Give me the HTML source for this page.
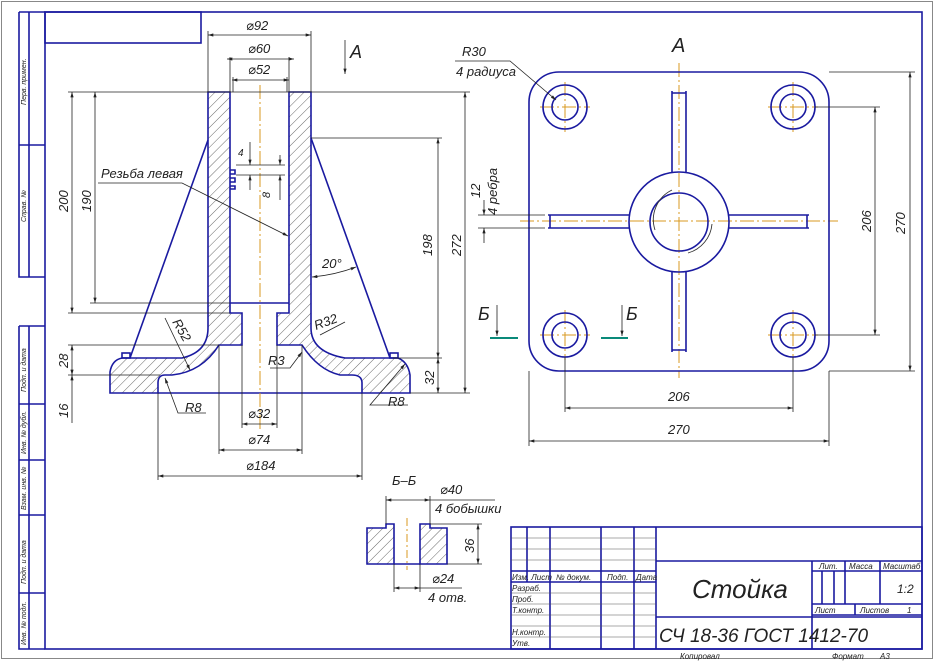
<!DOCTYPE html>
<html><head><meta charset="utf-8"><style>
html,body{margin:0;padding:0;background:#fff}
svg{display:block}
text{font-family:"Liberation Sans","DejaVu Sans",sans-serif;font-style:italic;fill:#222}
</style></head><body>
<svg width="935" height="661" viewBox="0 0 935 661" xmlns="http://www.w3.org/2000/svg">
<defs>
<pattern id="h" patternUnits="userSpaceOnUse" width="7" height="7" patternTransform="rotate(45)">
<line x1="0" y1="0" x2="0" y2="7" stroke="#444" stroke-width="0.8"/>
</pattern>
<marker id="a" viewBox="0 0 10 6" refX="10" refY="3" markerWidth="8" markerHeight="4" orient="auto-start-reverse">
<path d="M0,0 L10,3 L0,6 Z" fill="#222"/></marker>
</defs>
<rect x="1.5" y="1.5" width="931" height="657" fill="none" stroke="#888" stroke-width="1"/>
<g fill="none" stroke="#1a1aa0" stroke-width="1.6">
<rect x="45" y="12" width="877" height="637"/>
<rect x="45" y="12" width="156" height="31"/>
<path d="M19,12 V277 H45 M29,12 V277 M19,12 H45 M19,145 H45"/>
<path d="M19,326 V649 H45 M29,326 V649 M19,326 H45 M19,404 H45 M19,460 H45 M19,515 H45 M19,593 H45"/>
</g>
<g font-size="7" fill="#222">
<text transform="translate(26,105) rotate(-90)">Перв. примен.</text>
<text transform="translate(26,222) rotate(-90)">Справ. №</text>
<text transform="translate(26,392) rotate(-90)">Подп. и дата</text>
<text transform="translate(26,454) rotate(-90)">Инв. № дубл.</text>
<text transform="translate(26,510) rotate(-90)">Взам. инв. №</text>
<text transform="translate(26,584) rotate(-90)">Подп. и дата</text>
<text transform="translate(26,645) rotate(-90)">Инв. № подл.</text>
</g>

<path d="M208,92 L230,92 L230,313 L242,313 L242,345 L219,345 Q202,372 172,375 L165,375 Q158,375 158,383 L158,393 L110,393 L110,372 Q112,360 122,358 L182,358 Q208,352 208,328 Z" fill="url(#h)" stroke="#1a1aa0" stroke-width="1.6"/>
<path d="M289,92 L311,92 L311,328 Q311,352 345,358 L398,358 Q408,362 410,375 L410,393 L362,393 L362,383 Q362,375 352,375 L340,375 Q318,370 302,345 L277,345 L277,313 L289,313 Z" fill="url(#h)" stroke="#1a1aa0" stroke-width="1.6"/>
<g fill="none" stroke="#1a1aa0" stroke-width="1.6">
<line x1="230" y1="303" x2="289" y2="303"/>
<line x1="158" y1="393" x2="362" y2="393"/>
<line x1="208" y1="140" x2="130" y2="358"/>
<line x1="311" y1="138" x2="390" y2="358"/>
<rect x="122" y="353" width="8" height="5"/>
<rect x="390" y="353" width="8" height="5"/>
<path d="M230,170 h5 v4 h-5 M230,178 h5 v4 h-5 M230,186 h5 v3 h-5"/>
</g>
<line x1="260" y1="85" x2="260" y2="430" stroke="#d89a20" stroke-width="1" stroke-dasharray="14,3,2,3"/>
<g stroke="#222" stroke-width="0.8" fill="none">
<path d="M208,92 V31 M311,92 V31 M230,92 V57 M289,92 V57 M233,92 V77 M287,92 V77"/>
<line x1="208" y1="35" x2="311" y2="35" marker-start="url(#a)" marker-end="url(#a)"/>
<line x1="227" y1="59" x2="294" y2="59" marker-start="url(#a)" marker-end="url(#a)"/>
<line x1="232" y1="80" x2="289" y2="80" marker-start="url(#a)" marker-end="url(#a)"/>
<path d="M68,92 H470 M68,313 H230 M90,303 H230 M311,138 H442 M68,345 H219 M68,375 H160 M393,358 H442 M410,393 H470"/>
<line x1="72" y1="92" x2="72" y2="313" marker-start="url(#a)" marker-end="url(#a)"/>
<line x1="95" y1="92" x2="95" y2="303" marker-start="url(#a)" marker-end="url(#a)"/>
<line x1="465" y1="92" x2="465" y2="393" marker-start="url(#a)" marker-end="url(#a)"/>
<line x1="438" y1="138" x2="438" y2="358" marker-start="url(#a)" marker-end="url(#a)"/>
<line x1="438" y1="358" x2="438" y2="393" marker-start="url(#a)" marker-end="url(#a)"/>
<line x1="72" y1="345" x2="72" y2="375" marker-start="url(#a)" marker-end="url(#a)"/>
<line x1="72" y1="393" x2="72" y2="423"/><line x1="72" y1="393" x2="72" y2="375" marker-end="url(#a)"/>
<path d="M242,345 V428 M277,345 V428 M219,345 V454 M302,345 V454 M158,393 V480 M362,393 V480"/>
<line x1="242" y1="424" x2="277" y2="424" marker-start="url(#a)" marker-end="url(#a)"/>
<line x1="219" y1="450" x2="302" y2="450" marker-start="url(#a)" marker-end="url(#a)"/>
<line x1="158" y1="476" x2="362" y2="476" marker-start="url(#a)" marker-end="url(#a)"/>
<path d="M98,183 H182 L288,236" marker-end="url(#a)"/>
<path d="M312,277 Q335,275 356,267" marker-start="url(#a)" marker-end="url(#a)"/>
<line x1="165" y1="318" x2="190" y2="370" marker-end="url(#a)"/>
<path d="M345,322 L320,335" />
<path d="M270,368 H290 L302,352" marker-end="url(#a)"/>
<path d="M206,413 H178 L165,378" marker-end="url(#a)"/>
<path d="M408,405 H370 L405,364" marker-end="url(#a)"/>
<path d="M236,165 H285 M236,175 H285"/>
<line x1="250" y1="142" x2="250" y2="165" marker-end="url(#a)"/>
<line x1="250" y1="190" x2="250" y2="175" marker-end="url(#a)"/>
<line x1="280" y1="155" x2="280" y2="165" marker-end="url(#a)"/>
<line x1="280" y1="200" x2="280" y2="175" marker-end="url(#a)"/>
<line x1="345" y1="40" x2="345" y2="74" marker-end="url(#a)"/>
</g>
<g font-size="13">
<text x="246" y="30">⌀92</text><text x="248" y="53">⌀60</text><text x="248" y="74">⌀52</text>
<text x="350" y="58" font-size="18" font-style="normal">A</text>
<text transform="translate(68,212) rotate(-90)">200</text>
<text transform="translate(91,212) rotate(-90)">190</text>
<text transform="translate(461,256) rotate(-90)">272</text>
<text transform="translate(432,256) rotate(-90)">198</text>
<text transform="translate(434,385) rotate(-90)">32</text>
<text transform="translate(68,368) rotate(-90)">28</text>
<text transform="translate(68,418) rotate(-90)">16</text>
<text x="248" y="418">⌀32</text><text x="248" y="444">⌀74</text><text x="246" y="470">⌀184</text>
<text x="101" y="178">Резьба левая</text>
<text x="322" y="268">20°</text>
<text transform="translate(172,322) rotate(60)">R52</text>
<text x="316" y="330" transform="rotate(-20 316 330)">R32</text>
<text x="268" y="365">R3</text>
<text x="185" y="412">R8</text><text x="388" y="406">R8</text>
<text x="238" y="156" font-size="10">4</text>
<text transform="translate(270,198) rotate(-90)" font-size="11">8</text>
</g>

<g stroke="#d89a20" stroke-width="1" stroke-dasharray="14,3,2,3" fill="none">
<line x1="679" y1="63" x2="679" y2="378"/><line x1="520" y1="221" x2="838" y2="221"/>
<path d="M540,107 H590 M565,82 V132 M768,107 H818 M793,82 V132 M540,335 H590 M565,310 V360 M768,335 H818 M793,310 V360"/>
</g>
<g fill="none" stroke="#1a1aa0" stroke-width="1.6">
<rect x="529" y="72" width="300" height="299" rx="30"/>
<circle cx="565" cy="107" r="22"/><circle cx="565" cy="107" r="13"/>
<circle cx="793" cy="107" r="22"/><circle cx="793" cy="107" r="13"/>
<circle cx="565" cy="335" r="22"/><circle cx="565" cy="335" r="13"/>
<circle cx="793" cy="335" r="22"/><circle cx="793" cy="335" r="13"/>
<circle cx="679" cy="222" r="50"/><circle cx="679" cy="222" r="29"/>
<path d="M672,91 V172 M686,91 V172 M672,272 V352 M686,272 V352 M672,93 H686 M672,350 H686"/>
<path d="M548,215 H629 M548,228 H629 M729,215 H809 M729,228 H809 M550,215 V228 M807,215 V228"/>
</g>
<path d="M655,230 A33,33 0 0 1 672,190 M712,224 A33,33 0 0 1 688,253" fill="none" stroke="#333" stroke-width="0.9"/>
<g stroke="#222" stroke-width="0.8" fill="none">
<path d="M829,72 H915 M815,107 H880 M815,335 H880 M829,371 H915 M565,357 V412 M793,357 V412 M529,371 V446 M829,371 V446"/>
<line x1="910" y1="72" x2="910" y2="371" marker-start="url(#a)" marker-end="url(#a)"/>
<line x1="875" y1="107" x2="875" y2="335" marker-start="url(#a)" marker-end="url(#a)"/>
<line x1="565" y1="408" x2="793" y2="408" marker-start="url(#a)" marker-end="url(#a)"/>
<line x1="529" y1="441" x2="829" y2="441" marker-start="url(#a)" marker-end="url(#a)"/>
<path d="M455,61 H510 L556,100" marker-end="url(#a)"/>
<path d="M478,215 H545 M478,228 H545"/>
<line x1="484" y1="200" x2="484" y2="215" marker-end="url(#a)"/>
<line x1="484" y1="243" x2="484" y2="228" marker-end="url(#a)"/>
<line x1="497" y1="305" x2="497" y2="336" marker-end="url(#a)"/>
<line x1="622" y1="305" x2="622" y2="336" marker-end="url(#a)"/>
</g>
<path d="M490,338 H518 M601,338 H628" stroke="#0a8a7a" stroke-width="2"/>
<g font-size="13">
<text x="672" y="52" font-size="20" font-style="normal">A</text>
<text x="462" y="56">R30</text><text x="456" y="76">4 радиуса</text>
<text transform="translate(480,198) rotate(-90)">12</text>
<text transform="translate(497,215) rotate(-90)">4 ребра</text>
<text transform="translate(871,232) rotate(-90)">206</text>
<text transform="translate(905,234) rotate(-90)">270</text>
<text x="668" y="401">206</text><text x="668" y="434">270</text>
<text x="478" y="320" font-size="18" font-style="normal">Б</text>
<text x="626" y="320" font-size="18" font-style="normal">Б</text>
</g>

<path d="M367,528 H386 V524 H394 V564 H367 Z" fill="url(#h)" stroke="#1a1aa0" stroke-width="1.6"/>
<path d="M420,524 H430 V528 H447 V564 H420 Z" fill="url(#h)" stroke="#1a1aa0" stroke-width="1.6"/>
<line x1="394" y1="564" x2="420" y2="564" stroke="#1a1aa0" stroke-width="1.6"/>
<line x1="407" y1="518" x2="407" y2="570" stroke="#d89a20" stroke-width="1" stroke-dasharray="8,3,2,3"/>
<g stroke="#222" stroke-width="0.8" fill="none">
<path d="M386,524 V496 M430,524 V496 M430,500 H495 M430,524 H482 M447,564 H482 M394,564 V592 M420,564 V592 M420,588 H462"/>
<line x1="386" y1="500" x2="430" y2="500" marker-start="url(#a)" marker-end="url(#a)"/>
<line x1="478" y1="524" x2="478" y2="564" marker-start="url(#a)" marker-end="url(#a)"/>
<line x1="394" y1="588" x2="420" y2="588" marker-start="url(#a)" marker-end="url(#a)"/>
</g>
<g font-size="13">
<text x="392" y="485" font-style="normal">Б–Б</text>
<text x="440" y="494">⌀40</text><text x="435" y="513">4 бобышки</text>
<text transform="translate(474,553) rotate(-90)">36</text>
<text x="432" y="583">⌀24</text><text x="428" y="602">4 отв.</text>
</g>

<g fill="none" stroke="#1a1aa0" stroke-width="1.6">
<rect x="511" y="527" width="411" height="122"/>
<path d="M527,527 V582 M550,527 V649 M601,527 V649 M634,527 V649 M656,527 V649 M511,571 H656 M511,582 H656"/>
<path d="M656,561 H922 M656,617 H922 M812,561 V649 M812,571 H922 M845,561 V604 M880,561 V604 M812,604 H922 M812,615 H922 M822,571 V604 M834,571 V604 M855,604 V615"/>
</g>
<g stroke="#555" stroke-width="0.6"><path d="M511,538 H656 M511,549 H656 M511,560 H656 M511,593 H656 M511,604 H656 M511,615 H656 M511,626 H656 M511,637 H656"/></g>
<g font-size="8">
<text x="512" y="580">Изм. Лист</text><text x="556" y="580">№ докум.</text><text x="607" y="580">Подп.</text><text x="636" y="580">Дата</text>
<text x="512" y="591">Разраб.</text><text x="512" y="602">Проб.</text><text x="512" y="613">Т.контр.</text>
<text x="512" y="635">Н.контр.</text><text x="512" y="646">Утв.</text>
<text x="819" y="569">Лит.</text><text x="849" y="569">Масса</text><text x="883" y="569">Масштаб</text>
<text x="815" y="613">Лист</text><text x="860" y="613">Листов</text><text x="907" y="613">1</text>
<text x="680" y="659">Копировал</text><text x="832" y="659">Формат</text><text x="880" y="659">А3</text>
</g>
<text x="897" y="593" font-size="12">1:2</text>
<text x="692" y="598" font-size="26">Стойка</text>
<text x="659" y="642" font-size="19">СЧ 18-36 ГОСТ 1412-70</text>
</svg>
</body></html>
